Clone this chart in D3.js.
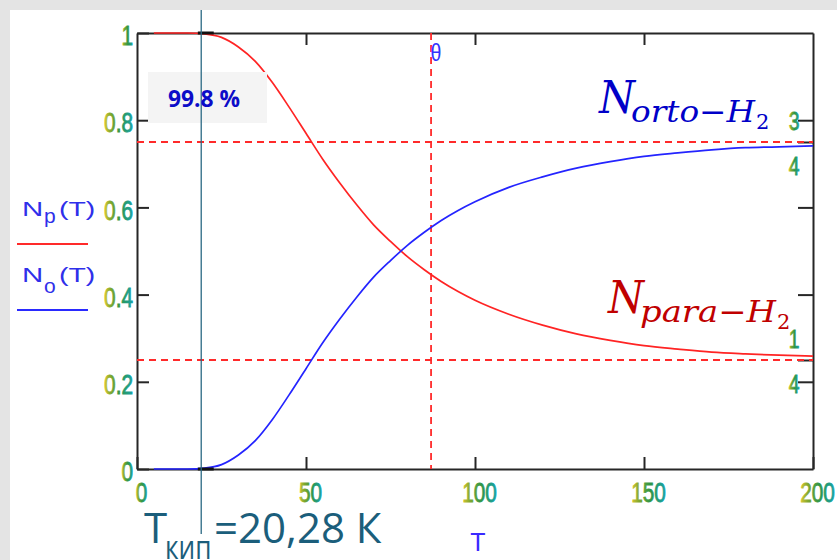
<!DOCTYPE html>
<html><head><meta charset="utf-8">
<script src="https://cdn.jsdelivr.net/npm/d3@7"></script>
<style>
html,body{margin:0;padding:0;background:#fff;}
svg{display:block;}
</style></head>
<body>
<svg id="c" width="837" height="560"></svg>
<script>
// ---- data ----
const temps = [5,10,15,20,25,30,35,40,45,50,55,60,65,70,75,80,85,90,95,100,110,120,130,140,150,160,170,180,190,200];
const paraH2 = [1.000,1.000,1.000,0.998,0.990,0.968,0.935,0.887,0.830,0.770,0.710,0.656,0.606,0.560,0.522,0.487,0.457,0.430,0.407,0.387,0.355,0.330,0.310,0.295,0.283,0.275,0.268,0.264,0.261,0.259];
const ortoH2 = [0.000,0.000,0.000,0.002,0.010,0.032,0.065,0.113,0.170,0.230,0.290,0.344,0.394,0.440,0.478,0.513,0.543,0.570,0.593,0.613,0.646,0.670,0.690,0.705,0.717,0.725,0.732,0.737,0.739,0.741];
const xTicks = [0,50,100,150,200];
const yTicks = [0,0.2,0.4,0.6,0.8,1];
const topTicks = [50,100,150];
const rightTicks = [0.2,0.25,0.4,0.6,0.75,0.8];
const refLevels = [0.75,0.25];
const thetaT = 87;
const boilLineT = 19;
const boilMark = [18,22.7];

const svg = d3.select("#c");
const W = 837, H = 560;
const x = d3.scaleLinear().domain([0,200]).range([137,813]);
const y = d3.scaleLinear().domain([0,1]).range([469,33]);

// gradient emulating the coloured fringe of Mathcad tick digits
const defs = svg.append("defs");
const gr0 = defs.append("linearGradient").attr("id","tg").attr("x1",0).attr("x2",1).attr("y1",0).attr("y2",0);
[[0,"#dcc832"],[0.22,"#82a82e"],[0.55,"#2f9546"],[1,"#17a2aa"]].forEach(([o,c])=>gr0.append("stop").attr("offset",o).attr("stop-color",c));

// background
svg.append("rect").attr("width",W).attr("height",H).attr("fill","#e4e4e4");
svg.append("rect").attr("x",10).attr("y",10).attr("width",W-10).attr("height",H-10).attr("fill","#ffffff");

const sans = "'Liberation Sans',Arial,sans-serif";
const axisCol = "#262626";
const SX = 0.77; // horizontal condensing of the tick font

function styleAxis(g){
  g.select(".domain").attr("stroke",axisCol).attr("stroke-width",2);
  g.selectAll(".tick line").attr("stroke",axisCol).attr("stroke-width",2);
}
function tickText(sel){
  sel.attr("font-family",sans).attr("font-size",27).attr("fill","url(#tg)")
    .attr("stroke","url(#tg)").attr("stroke-width",0.8);
}

// bottom axis
const gx = svg.append("g").attr("transform",`translate(0,${y(0)})`)
  .call(d3.axisBottom(x).tickValues(xTicks).tickSizeInner(-12).tickSizeOuter(0).tickPadding(14).tickFormat(d3.format("")));
styleAxis(gx);
gx.selectAll(".tick text").call(tickText).attr("x",4/SX).attr("transform",`scale(${SX},1)`);

// left axis
const gy = svg.append("g").attr("transform",`translate(${x(0)},0)`)
  .call(d3.axisLeft(y).tickValues(yTicks).tickSizeInner(-12).tickSizeOuter(0).tickPadding(4).tickFormat(d3.format("")));
styleAxis(gy);
gy.selectAll(".tick text").call(tickText).attr("y",3).attr("x",-4/SX).attr("transform",`scale(${SX},1)`);

// top axis
const gt = svg.append("g").attr("transform",`translate(0,${y(1)})`)
  .call(d3.axisTop(x).tickValues(topTicks).tickSizeInner(-12).tickSizeOuter(0).tickFormat(""));
styleAxis(gt);

// right axis
const gr = svg.append("g").attr("transform",`translate(${x(200)},0)`)
  .call(d3.axisRight(y).tickValues(rightTicks).tickSizeInner(-15).tickSizeOuter(0).tickFormat(""));
styleAxis(gr);

// right side fraction labels 3/4 and 1/4
const fracs = [{v:0.75,top:"3",bot:"4"},{v:0.25,top:"1",bot:"4"}];
fracs.forEach(f=>{
  [[f.top,-21],[f.bot,24]].forEach(([s,off])=>{
    svg.append("text").attr("transform",`translate(${x(200)-19},${y(f.v)+off}) scale(${SX},1)`)
      .attr("dy","0.36em").attr("text-anchor","middle").attr("font-family",sans).attr("font-size",25)
      .attr("fill","url(#tg)").attr("stroke","url(#tg)").attr("stroke-width",0.8).text(s);
  });
});

// reference dashed lines
refLevels.forEach(v=>{
  svg.append("line").attr("x1",x(0)).attr("x2",x(200)).attr("y1",y(v)).attr("y2",y(v))
    .attr("stroke","#ff2a2a").attr("stroke-width",1.8).attr("stroke-dasharray","7,5");
});
svg.append("line").attr("x1",x(thetaT)).attr("x2",x(thetaT)).attr("y1",y(1)).attr("y2",y(0))
  .attr("stroke","#ff2a2a").attr("stroke-width",1.8).attr("stroke-dasharray","7,5");
svg.append("text").attr("transform",`translate(${x(thetaT)+5},${y(1)+28}) scale(0.85,1)`).attr("text-anchor","middle")
  .attr("font-family",sans).attr("font-size",23).attr("fill","#3333ff").text("θ");

// curves
const line = d3.line().x((d,i)=>x(temps[i])).y(d=>y(d)).curve(d3.curveMonotoneX);
svg.append("path").datum(paraH2).attr("d",line).attr("fill","none").attr("stroke","#ff2424").attr("stroke-width",1.7);
svg.append("path").datum(ortoH2).attr("d",line).attr("fill","none").attr("stroke","#2424ff").attr("stroke-width",1.7);

// dark marks at boiling point on axes
[1,0].forEach(v=>{
  svg.append("line").attr("x1",x(boilMark[0])).attr("x2",x(boilMark[1])).attr("y1",y(v)).attr("y2",y(v))
    .attr("stroke","#111").attr("stroke-width",3);
});

// 99.8 % box
svg.append("rect").attr("x",148).attr("y",72).attr("width",119).attr("height",51).attr("fill","#f4f4f4");
svg.append("line").attr("x1",x(boilLineT)).attr("x2",x(boilLineT)).attr("y1",10).attr("y2",534)
  .attr("stroke","#2b6984").attr("stroke-width",1.3);
svg.append("text").attr("x",168).attr("y",107).attr("font-family","'Open Sans',sans-serif")
  .attr("font-weight",700).attr("font-size",24).attr("fill","#0c0cc8")
  .attr("textLength",72).attr("lengthAdjust","spacingAndGlyphs").text("99.8 %");

// left legend
const legCol = "#2f2fea";
function stretched(xp, yp, s, size, sx){
  return svg.append("text").attr("transform",`translate(${xp},${yp}) scale(${sx},1)`)
    .attr("font-family",sans).attr("font-size",size).attr("fill",legCol).text(s);
}
function legend(baseY, sub, subDy, lineY, lineCol){
  stretched(22, baseY, "N", 21, 1.4);
  stretched(44, baseY+subDy, sub, 21, 1.0);
  stretched(59, baseY, "(T)", 20, 1.42);
  svg.append("line").attr("x1",17).attr("x2",88).attr("y1",lineY).attr("y2",lineY)
    .attr("stroke",lineCol).attr("stroke-width",2);
}
legend(216,"p",7,244,"#ff2a2a");
legend(282,"o",11,310,"#2a2aff");

// axis title T
svg.append("text").attr("x",478).attr("y",551).attr("text-anchor","middle").attr("font-family",sans)
  .attr("font-size",25).attr("fill","#3a2aff").text("T");

// curve names
const mathFont = "'DejaVu Serif',serif";
function curveName(xN, baseY, sub, subW, col){
  svg.append("text").attr("x",xN).attr("y",baseY).attr("font-family",mathFont).attr("font-style","italic")
    .attr("font-size",44).attr("fill",col).attr("textLength",36).attr("lengthAdjust","spacingAndGlyphs").text("N");
  svg.append("text").attr("x",xN+32).attr("y",baseY+9).attr("font-family",mathFont).attr("font-style","italic")
    .attr("font-size",30).attr("fill",col).attr("textLength",subW).attr("lengthAdjust","spacingAndGlyphs").text(sub);
  svg.append("text").attr("x",xN+32+subW+1).attr("y",baseY+16).attr("font-family",mathFont)
    .attr("font-size",21).attr("fill",col).text("2");
}
curveName(599,113,"orto−H",124,"#0000c8");
curveName(608,313,"para−H",136,"#c00000");

// boiling temperature label
const btFont = "'Open Sans',sans-serif", btCol = "#1b5e7b";
svg.append("text").attr("x",144).attr("y",543).attr("font-family",btFont).attr("font-size",42).attr("fill",btCol).text("T");
svg.append("text").attr("transform","translate(165,559) scale(0.82,1)").attr("font-family",btFont)
  .attr("font-size",32).attr("fill",btCol).text("кип");
svg.append("text").attr("x",214).attr("y",543).attr("font-family",btFont).attr("font-size",42).attr("fill",btCol).text("=20,28 К");
</script>
</body></html>
